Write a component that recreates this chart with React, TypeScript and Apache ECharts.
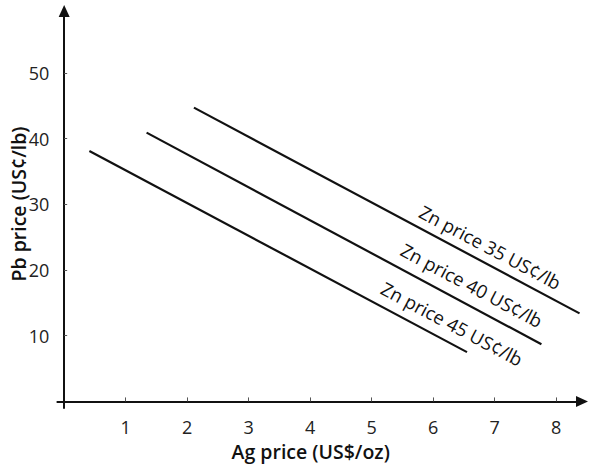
import React, { useEffect, useRef } from "react";
import * as echarts from "echarts";

// Data
const ZN_PRICES = [35, 40, 45];
const AG_START = [2.11, 1.34, 0.41];
const PB_START = [44.7, 40.9, 38.1];
const AG_END = [8.38, 7.76, 6.55];
const PB_END = [13.4, 8.7, 7.5];
// label anchors (data coordinates) for each line's annotation
const LABEL_AG = [6.93, 6.63, 6.31];
const LABEL_PB = [23.5, 17.7, 11.85];

const X_TICKS = [1, 2, 3, 4, 5, 6, 7, 8];
const Y_TICKS = [10, 20, 30, 40, 50];

const FONT = "'Open Sans', 'Noto Sans', sans-serif";
const INK = "#111";

export default function App() {
  const ref = useRef<HTMLDivElement>(null);

  useEffect(() => {
    if (!ref.current) return;
    document.body.style.margin = "0";
    const chart = echarts.init(ref.current, undefined, { renderer: "svg" });

    const series = ZN_PRICES.map((zn, i) => ({
      type: "line",
      name: `Zn price ${zn} US¢/lb`,
      data: [
        [AG_START[i], PB_START[i]],
        [AG_END[i], PB_END[i]],
      ],
      symbol: "none",
      lineStyle: { color: INK, width: 2.2 },
      markPoint: {
        symbol: "circle",
        symbolSize: 0,
        silent: true,
        data: [
          {
            coord: [LABEL_AG[i], LABEL_PB[i]],
            label: {
              show: true,
              position: "inside",
              formatter: `Zn price ${zn} US¢/lb`,
              rotate: -28,
              fontSize: 18.5,
              fontFamily: FONT,
              color: INK,
            },
          },
        ],
      },
    }));

    chart.setOption({
      animation: false,
      grid: {
        left: 57.4,
        right: 7,
        top: 11,
        bottom: 57,
        containLabel: false,
        outerBoundsMode: "none",
      },
      xAxis: {
        type: "value",
        min: -0.11,
        max: 8.42,
        name: "Ag price (US$/oz)",
        nameLocation: "middle",
        nameGap: 33,
        nameMoveOverlap: false,
        nameTextStyle: {
          fontFamily: FONT,
          fontSize: 19.5,
          fontWeight: 600,
          color: INK,
          padding: [0, 18, 0, 0],
        },
        axisLine: {
          onZero: true,
          symbol: ["none", "triangle"],
          symbolSize: [11, 12],
          lineStyle: { color: INK, width: 2 },
        },
        axisTick: {
          customValues: X_TICKS,
          inside: true,
          length: 4,
          lineStyle: { color: "#555", width: 1 },
        },
        axisLabel: {
          customValues: X_TICKS,
          fontFamily: FONT,
          fontSize: 18,
          color: "#222",
          margin: 10,
        },
        splitLine: { show: false },
      },
      yAxis: {
        type: "value",
        min: -1,
        max: 59.4,
        name: "Pb price (US¢/lb)",
        nameLocation: "middle",
        nameGap: 29,
        nameMoveOverlap: false,
        nameTextStyle: {
          fontFamily: FONT,
          fontSize: 19.5,
          fontWeight: 600,
          color: INK,
          padding: [0, 0, 0, 11],
        },
        axisLine: {
          onZero: true,
          symbol: ["none", "triangle"],
          symbolSize: [11, 12],
          lineStyle: { color: INK, width: 2 },
        },
        axisTick: {
          customValues: Y_TICKS,
          inside: true,
          length: 3,
          lineStyle: { color: "#555", width: 1 },
        },
        axisLabel: {
          customValues: Y_TICKS,
          fontFamily: FONT,
          fontSize: 18,
          color: "#222",
          margin: 8,
        },
        splitLine: { show: false },
      },
      series,
    });

    return () => chart.dispose();
  }, []);

  return (
    <div
      ref={ref}
      style={{ position: "absolute", left: 0, top: 0, width: 589, height: 465 }}
    />
  );
}
